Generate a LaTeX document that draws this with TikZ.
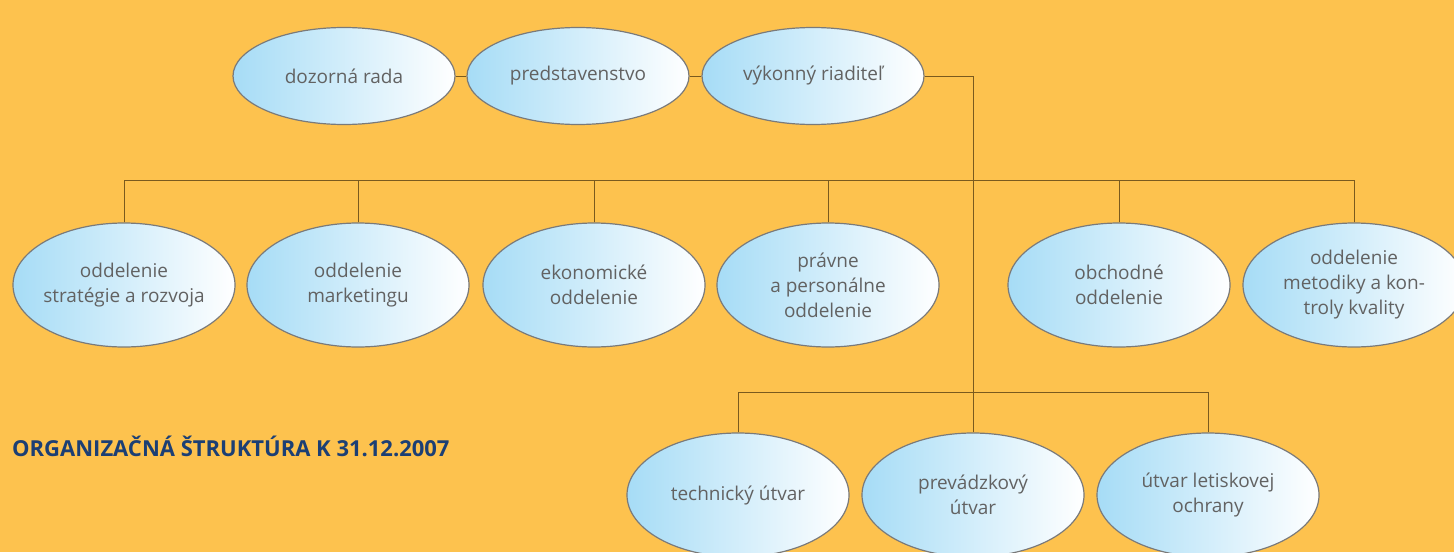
\documentclass[tikz,border=0pt]{standalone}
\usepackage{fontspec}
\setmainfont{Open Sans}
\usetikzlibrary{shapes.geometric}

\definecolor{bgyellow}{HTML}{FDC24E}
\definecolor{ovalblue}{HTML}{A6DCF6}
\definecolor{ovalline}{HTML}{7A7A7A}
\definecolor{textgray}{HTML}{626262}
\definecolor{linebrown}{HTML}{7A5A1E}
\definecolor{titleblue}{HTML}{1C3F74}

\tikzset{
  unit/.style={ellipse, draw=ovalline, line width=1.2pt, left color=ovalblue, right color=white,
    minimum width=222pt, minimum height=124pt, inner sep=0pt, align=center,
    text=textgray, font=\fontsize{19}{25}\selectfont},
  board/.style={unit, minimum height=97pt},
  link/.style={draw=linebrown, line width=0.8pt}
}

\begin{document}
\begin{tikzpicture}[x=1pt, y=-1pt]
    % Background
    \fill[bgyellow] (0,0) rectangle (1454,552);
    \useasboundingbox (0,0) rectangle (1454,552);

    % Top management
    \node[board] (dozor) at (344,76) {dozorná rada};
    \node[board] (pred) at (578,76) {predstavenstvo};
    \node[board] (riad) at (813,76) {výkonný riaditeľ};

    % Departments
    \node[unit, inner xsep=-3pt] (strat) at (124,285) {oddelenie\\stratégie a rozvoja};
    \node[unit] (mark) at (358,285) {oddelenie\\marketingu};
    \node[unit] (ekon) at (594,285) {ekonomické\\oddelenie};
    \node[unit] (prav) at (828,285) {právne\\a personálne\\oddelenie};
    \node[unit] (obch) at (1119,285) {obchodné\\oddelenie};
    \node[unit] (kval) at (1354,285) {oddelenie\\metodiky a kon-\\troly kvality};

    % Units
    \node[unit] (tech) at (738,495) {technický útvar};
    \node[unit] (prev) at (973,495) {prevádzkový\\útvar};
    \node[unit] (ochr) at (1208,495) {útvar letiskovej\\ochrany};

    % Title
    \node[anchor=west, inner sep=0pt, text=titleblue, font=\fontsize{22}{26}\selectfont\bfseries]
      (title) at (12,446) {ORGANIZAČNÁ ŠTRUKTÚRA K 31.12.2007};

    % Connectors
    \coordinate (bus1) at (973,180);
    \coordinate (bus2) at (973,392);
    \draw[link] (dozor) -- (pred);
    \draw[link] (pred) -- (riad);
    \draw[link] (riad.east) -| (prev.north);
    \draw[link] (strat.north |- bus1) -- (kval.north |- bus1);
    \foreach \n in {strat, mark, ekon, prav, obch, kval}
      \draw[link] (\n.north) -- (\n.north |- bus1);
    \draw[link] (tech.north) -- (tech.north |- bus2) -- (ochr.north |- bus2) -- (ochr.north);
\end{tikzpicture}
\end{document}
